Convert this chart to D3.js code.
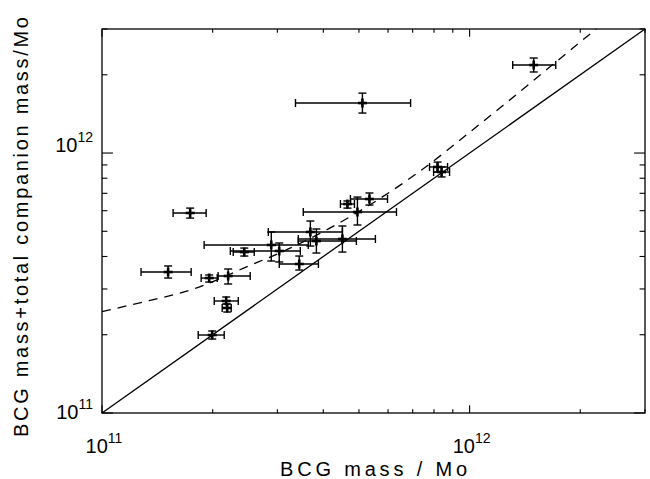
<!DOCTYPE html>
<html><head><meta charset="utf-8">
<script src="https://cdn.jsdelivr.net/npm/d3@7"></script>
<style>body{margin:0;background:#fff}svg{display:block}text{font-family:"Liberation Sans",Arial,sans-serif;fill:#000}</style>
</head><body><svg id="c" width="650" height="479"></svg>
<script>
const UNIT = 1e11;
// BCG mass (x) and errors, units of 1e11 Mo
const bcgMass  = [14.94, 5.11, 8.18, 8.39, 1.737, 1.513, 1.957, 2.204, 2.177, 2.191, 1.994, 2.438, 2.887, 3.035, 3.688, 3.83, 4.508, 3.44, 4.652, 4.953, 5.34];
const bcgLo    = [13.10, 3.36, 7.78, 7.98, 1.561, 1.277, 1.861, 2.07, 2.02, 2.123, 1.827, 2.275, 1.896, 2.234, 2.834, 3.42, 3.42, 3.035, 4.452, 3.528, 4.74];
const bcgHi    = [17.15, 6.91, 8.71, 8.82, 1.920, 1.748, 2.058, 2.53, 2.348, 2.246, 2.15, 2.595, 3.64, 3.463, 4.508, 4.92, 5.543, 3.879, 4.861, 6.325, 5.98];
// BCG + total companion mass (y) and errors, units of 1e11 Mo
const totMass  = [21.8, 15.57, 8.84, 8.45, 5.88, 3.485, 3.305, 3.365, 2.697, 2.535, 1.995, 4.16, 4.43, 4.20, 4.97, 4.587, 4.67, 3.742, 6.366, 5.93, 6.655];
const totLo    = [20.5, 14.25, 8.45, 8.09, 5.62, 3.305, 3.19, 3.135, 2.626, 2.446, 1.926, 4.016, 3.843, 3.81, 4.388, 4.125, 4.16, 3.548, 6.14, 5.286, 6.31];
const totHi    = [23.2, 17.0, 9.23, 8.84, 6.14, 3.677, 3.395, 3.58, 2.794, 2.626, 2.067, 4.31, 4.97, 4.507, 5.477, 5.103, 5.24, 4.016, 6.54, 6.77, 7.02];
// dashed model curve
const curveX = [1.0, 1.216, 1.849, 2.427, 3.319, 7.194, 10.72, 20.04, 22.1];
const curveY = [2.455, 2.618, 3.062, 3.606, 4.365, 8.356, 13.0, 26.8, 30];
// identity line
const lineX = [1, 30];
// ticks
const majorTicks = [1, 10];
const majorLabels = [["10","11"],["10","12"]];
const minorTicks = [2,3,4,5,6,7,8,9,20,30];
const xTitle = "BCG mass / Mo";
const yTitle = "BCG mass+total companion mass/Mo";

const L=102,R=645,T=29,B=413;
const x = d3.scaleLog().domain([1*UNIT,30*UNIT]).range([L,R]);
const y = d3.scaleLog().domain([1*UNIT,30*UNIT]).range([B,T]);
const svg = d3.select("#c");
const g = svg.append("g").attr("stroke","#000").attr("fill","none");

g.append("rect").attr("x",L).attr("y",T).attr("width",R-L).attr("height",B-T).attr("stroke-width",1.3);

const xMaj=7.7,xMin=3.8,yMaj=10.9,yMin=5.4;
majorTicks.concat(minorTicks).forEach(v=>{
  const isMaj = majorTicks.includes(v);
  const px = x(v*UNIT), py = y(v*UNIT);
  const lx = isMaj?xMaj:xMin, ly = isMaj?yMaj:yMin;
  g.append("line").attr("x1",px).attr("x2",px).attr("y1",B).attr("y2",B-lx).attr("stroke-width",1.1);
  g.append("line").attr("x1",px).attr("x2",px).attr("y1",T).attr("y2",T+lx).attr("stroke-width",1.1);
  g.append("line").attr("y1",py).attr("y2",py).attr("x1",L).attr("x2",L+ly).attr("stroke-width",1.1);
  g.append("line").attr("y1",py).attr("y2",py).attr("x1",R).attr("x2",R-ly).attr("stroke-width",1.1);
});

g.append("path").attr("stroke-width",1.3)
  .attr("d", d3.line().x(d=>x(d*UNIT)).y(d=>y(d*UNIT))(lineX));
g.append("path").attr("stroke-width",1.3).attr("stroke-dasharray","9,7")
  .attr("d", d3.line().curve(d3.curveMonotoneX).x(d=>x(d*UNIT)).y((d,i)=>y(curveY[i]*UNIT))(curveX));

const cap=4, arm=4.5;
bcgMass.forEach((v,i)=>{
  const cx=x(v*UNIT), cy=y(totMass[i]*UNIT);
  const x0=x(bcgLo[i]*UNIT), x1=x(bcgHi[i]*UNIT), y0=y(totLo[i]*UNIT), y1=y(totHi[i]*UNIT);
  const e = g.append("g").attr("stroke-width",1.4);
  e.append("line").attr("x1",x0).attr("x2",x1).attr("y1",cy).attr("y2",cy);
  e.append("line").attr("x1",x0).attr("x2",x0).attr("y1",cy-cap).attr("y2",cy+cap);
  e.append("line").attr("x1",x1).attr("x2",x1).attr("y1",cy-cap).attr("y2",cy+cap);
  e.append("line").attr("x1",cx).attr("x2",cx).attr("y1",y0).attr("y2",y1);
  e.append("line").attr("x1",cx-cap).attr("x2",cx+cap).attr("y1",y0).attr("y2",y0);
  e.append("line").attr("x1",cx-cap).attr("x2",cx+cap).attr("y1",y1).attr("y2",y1);
  e.append("line").attr("x1",cx-arm).attr("x2",cx+arm).attr("y1",cy).attr("y2",cy).attr("stroke-width",2.6);
  e.append("line").attr("x1",cx).attr("x2",cx).attr("y1",cy-arm).attr("y2",cy+arm).attr("stroke-width",2.6);
});

majorTicks.forEach((v,i)=>{
  const t = svg.append("text").attr("x",x(v*UNIT)+2).attr("y",453).attr("text-anchor","middle").attr("font-size",20);
  t.append("tspan").text(majorLabels[i][0]);
  t.append("tspan").attr("dy",-10).attr("font-size",14).text(majorLabels[i][1]);
  const u = svg.append("text").attr("x",93).attr("y",y(v*UNIT)+(i==0?6:-1)).attr("text-anchor","end").attr("font-size",20);
  u.append("tspan").text(majorLabels[i][0]);
  u.append("tspan").attr("dy",-10).attr("font-size",14).text(majorLabels[i][1]);
});

svg.append("text").attr("x",(L+R)/2).attr("y",476).attr("text-anchor","middle").attr("font-size",20)
  .attr("textLength",187).attr("lengthAdjust","spacing").text(xTitle);
svg.append("text").attr("transform","translate(28,227) rotate(-90)").attr("text-anchor","middle").attr("font-size",20)
  .attr("textLength",420).attr("lengthAdjust","spacing").text(yTitle);
</script></body></html>
